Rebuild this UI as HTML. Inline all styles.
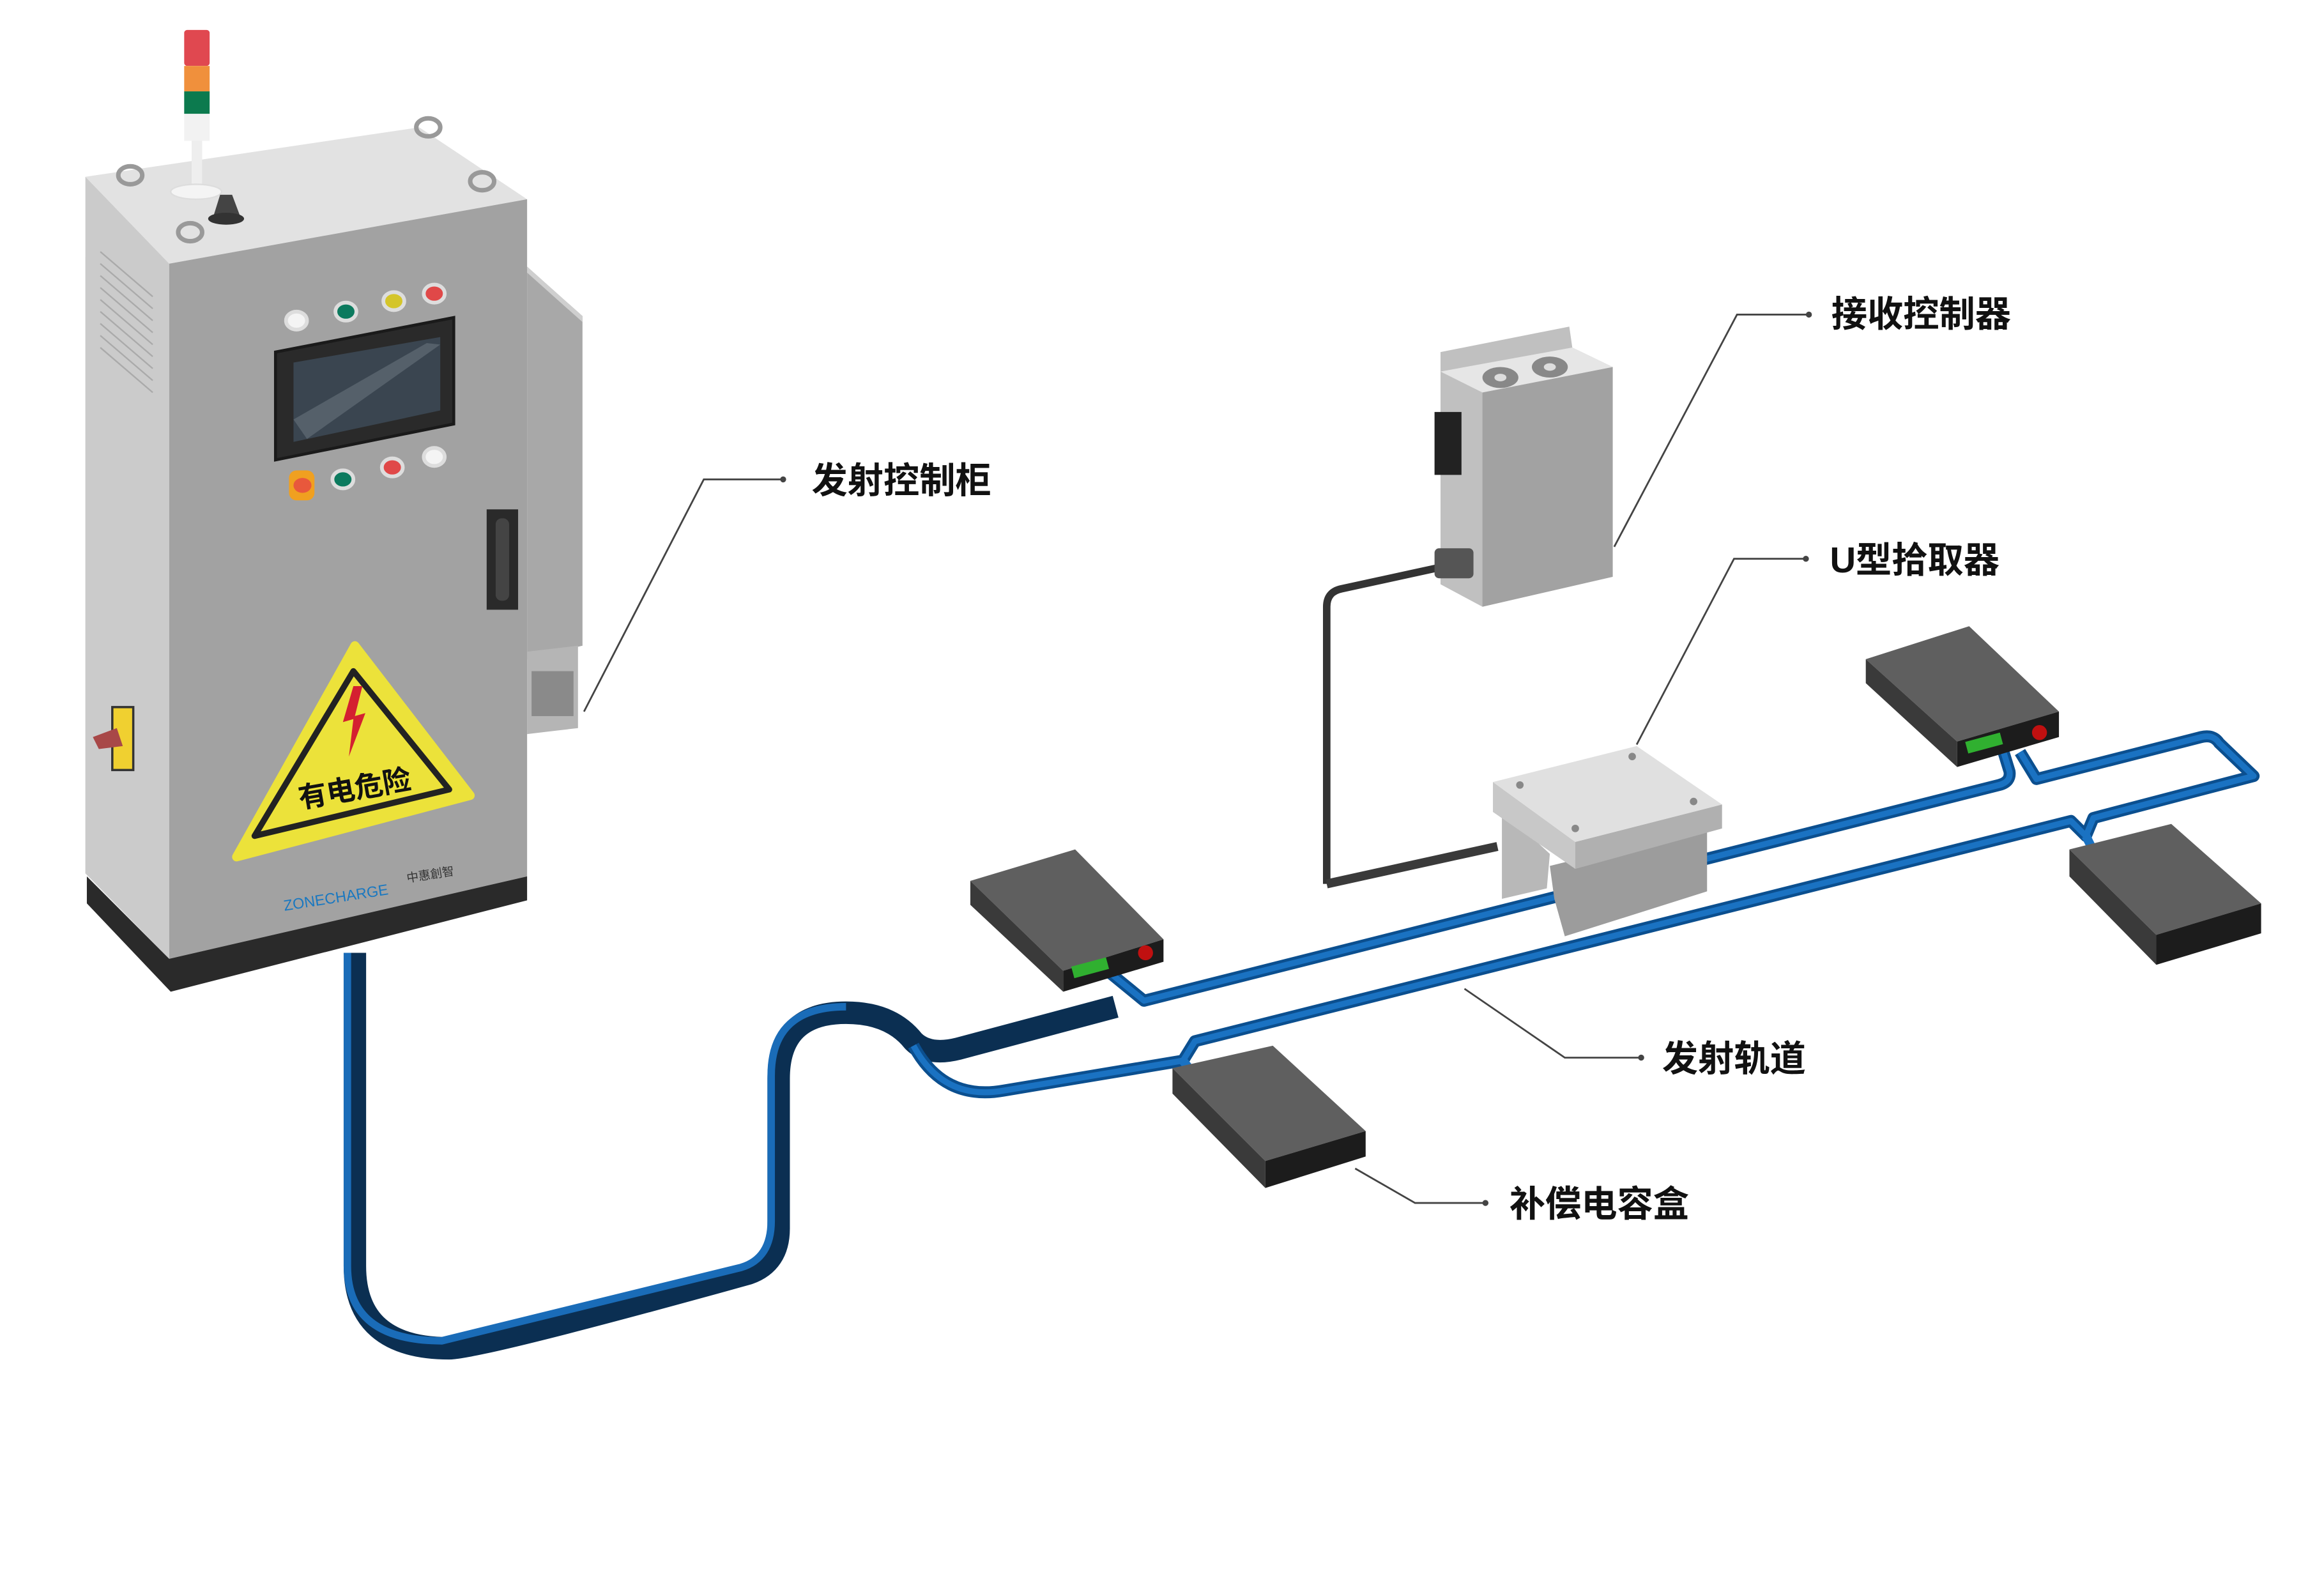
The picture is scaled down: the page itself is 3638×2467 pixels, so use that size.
<!DOCTYPE html>
<html><head><meta charset="utf-8"><style>
html,body{margin:0;padding:0;background:#fff;}
svg{display:block;}
text{font-family:"Liberation Sans","Noto Sans CJK SC",sans-serif;}
</style></head><body>
<svg width="3638" height="2467" viewBox="0 0 1552 1052" preserveAspectRatio="none" xmlns="http://www.w3.org/2000/svg">
<rect width="1552" height="1052" fill="#fff"/>

<!-- main cable -->
<path d="M237,636 L237,845 Q237,900 300,900 Q320,900 500,850 Q520,843 520,820 L520,720 Q520,676 565,676 Q595,676 610,695 Q620,705 640,700 L745,672" fill="none" stroke="#0b2f52" stroke-width="15" stroke-linejoin="round"/>
<path d="M232,636 L232,845 Q232,895 295,895 L495,846 Q515,840 515,815 L515,718 Q515,672 565,672" fill="none" stroke="#1a6cb8" stroke-width="5"/>
<g fill="none" stroke-linejoin="round">
<path d="M610,698 Q630,735 670,728 L790,708 L798,695 L1383,548 L1393,558 L1398,546 L1505,518 L1482,496 Q1478,490 1470,492 L1360,520 L1349,502 M1338,502 L1342,515 Q1343,522 1335,524 L764,668 L742,650" stroke="#0b4f8f" stroke-width="8"/>
<path d="M610,698 Q630,735 670,728 L790,708 L798,695 L1383,548 L1393,558 L1398,546 L1505,518 L1482,496 Q1478,490 1470,492 L1360,520 L1349,502 M1338,502 L1342,515 Q1343,522 1335,524 L764,668 L742,650" stroke="#1a72c2" stroke-width="4"/>
</g>
<path d="M1393,558 L1398,568" stroke="#1a72c2" stroke-width="6"/>
<path d="M790,708 L798,718" stroke="#1a72c2" stroke-width="6"/>

<!-- leader lines -->
<g stroke="#444" stroke-width="1.2" fill="none">
<path d="M390,475 L470,320 L523,320"/>
<path d="M1078,365 L1160,210 L1208,210"/>
<path d="M1093,497 L1158,373 L1206,373"/>
<path d="M978,660 L1045,706 L1096,706"/>
<path d="M905,780 L945,803 L992,803"/>
</g>
<g fill="#444"><circle cx="523" cy="320" r="2"/><circle cx="1208" cy="210" r="2"/><circle cx="1206" cy="373" r="2"/><circle cx="1096" cy="706" r="2"/><circle cx="992" cy="803" r="2"/></g>
<g font-size="24" font-weight="bold" fill="#111">
<text x="542" y="329">发射控制柜</text>
<text x="1223" y="218">接收控制器</text>
<text x="1222" y="382">U型拾取器</text>
<text x="1110" y="715">发射轨道</text>
<text x="1008" y="812">补偿电容盒</text>
</g>

<!-- cabinet -->
<polygon points="57,118 280,85 352,133 113,176" fill="#e2e2e2"/>
<polygon points="57,118 113,176 113,640 57,583" fill="#cbcbcb"/>
<polygon points="113,176 352,133 352,585 113,640" fill="#a2a2a2"/>
<polygon points="58,585 113,640 352,585 352,601 114,662 58,603" fill="#2a2a2a"/>
<polygon points="352,178 389,211 389,431 352,440" fill="#a8a8a8"/>
<polygon points="352,178 389,211 389,215 352,182" fill="#cfcfcf"/>
<polygon points="352,435 386,431 386,486 352,490" fill="#b5b5b5"/>
<rect x="355" y="448" width="28" height="30" fill="#8a8a8a"/>
<g stroke="#aaa" stroke-width="1"><line x1="67" y1="168" x2="102" y2="198"/><line x1="67" y1="176" x2="102" y2="206"/><line x1="67" y1="184" x2="102" y2="214"/><line x1="67" y1="192" x2="102" y2="222"/><line x1="67" y1="200" x2="102" y2="230"/><line x1="67" y1="208" x2="102" y2="238"/><line x1="67" y1="216" x2="102" y2="246"/><line x1="67" y1="224" x2="102" y2="254"/><line x1="67" y1="232" x2="102" y2="262"/></g>
<!-- screen -->
<polygon points="184,235 303,212 303,283 184,307" fill="#2a2a2a" stroke="#1a1a1a" stroke-width="2"/>
<polygon points="196,242 294,225 294,274 196,295" fill="#3a4550"/>
<polygon points="196,280 285,229 294,230 205,293" fill="#55606a"/>
<!-- buttons -->
<g stroke="#ddd" stroke-width="2.5">
<ellipse cx="198" cy="214" rx="7" ry="6" fill="#f4f4f4"/>
<ellipse cx="231" cy="208" rx="7" ry="6" fill="#0c7a5e"/>
<ellipse cx="263" cy="201" rx="7" ry="6" fill="#d4c52a"/>
<ellipse cx="290" cy="196" rx="7" ry="6" fill="#e04848"/>
<ellipse cx="229" cy="320" rx="7" ry="6" fill="#0c7a5e"/>
<ellipse cx="262" cy="312" rx="7" ry="6" fill="#e04848"/>
<ellipse cx="290" cy="305" rx="7" ry="6" fill="#f4f4f4"/>
</g>
<rect x="193" y="314" width="17" height="20" rx="5" fill="#f0a020"/>
<ellipse cx="202" cy="324" rx="6" ry="5" fill="#e8583c"/>
<!-- handle -->
<rect x="325" y="340" width="21" height="67" fill="#2a2a2a"/>
<rect x="331" y="346" width="9" height="55" rx="4" fill="#444"/>
<!-- switch -->
<rect x="75" y="472" width="14" height="42" fill="#f0d030" stroke="#333" stroke-width="1.5"/>
<path d="M62,492 L78,486 L82,498 L66,500 Z" fill="#a84848"/>
<!-- warning -->
<polygon points="237,431 314,531 158,572" fill="#ece23a" stroke="#ece23a" stroke-width="6" stroke-linejoin="round"/>
<polygon points="236,448 300,527 170,558" fill="none" stroke="#222" stroke-width="4" stroke-linejoin="round"/>
<path d="M236,458 L229,482 L236,480 L233,505 L244,476 L237,478 L242,458 Z" fill="#d42030"/>
<text x="237" y="533" font-size="19" font-weight="bold" text-anchor="middle" fill="#111" transform="rotate(-10 237 527)">有电危险</text>
<text x="190" y="608" font-size="10" fill="#1a78c0" transform="rotate(-9 190 608)">ZONECHARGE</text>
<text x="272" y="589" font-size="8" fill="#333" transform="rotate(-9 272 589)">中惠創智</text>
<!-- top items -->
<g fill="none" stroke="#999" stroke-width="3"><ellipse cx="87" cy="117" rx="8" ry="6"/><ellipse cx="286" cy="85" rx="8" ry="6"/><ellipse cx="322" cy="121" rx="8" ry="6"/><ellipse cx="127" cy="155" rx="8" ry="6"/></g>
<rect x="123" y="20" width="17" height="24" rx="2" fill="#e04850"/>
<rect x="123" y="44" width="17" height="17" fill="#f0903c"/>
<rect x="123" y="61" width="17" height="15" fill="#0c7a4e"/>
<rect x="123" y="76" width="17" height="18" fill="#f2f2f2"/>
<rect x="128" y="94" width="7" height="30" fill="#eee"/>
<ellipse cx="131" cy="128" rx="17" ry="5" fill="#f4f4f4" stroke="#ddd"/>
<path d="M142,146 L147,130 L155,130 L161,146 Z" fill="#444"/>
<ellipse cx="151" cy="146" rx="12" ry="4" fill="#333"/>

<!-- receiver controller -->
<path d="M886,590 L886,405 Q886,395 896,393 L965,378" fill="none" stroke="#333" stroke-width="5"/>
<path d="M886,590 L1000,565" stroke="#3a3a3a" stroke-width="6"/>
<polygon points="962,235 1048,218 1050,232 1077,245 1077,385 990,405 962,390" fill="#c0c0c0"/>
<polygon points="990,262 1077,245 1077,385 990,405" fill="#a2a2a2"/>
<polygon points="962,248 1050,232 1077,245 990,262" fill="#e6e6e6"/>
<ellipse cx="1002" cy="252" rx="12" ry="7" fill="#888"/><ellipse cx="1035" cy="245" rx="12" ry="7" fill="#888"/>
<ellipse cx="1002" cy="252" rx="4" ry="2.5" fill="#ddd"/><ellipse cx="1035" cy="245" rx="4" ry="2.5" fill="#ddd"/>
<rect x="958" y="275" width="18" height="42" fill="#222"/>
<rect x="958" y="366" width="26" height="20" rx="3" fill="#555"/>
<!-- pickup -->
<polygon points="1003,540 1003,600 1033,593 1035,570" fill="#b8b8b8"/>
<polygon points="1035,578 1140,552 1140,595 1045,625 1038,600" fill="#9c9c9c"/>
<polygon points="997,522 1052,562 1052,580 997,542" fill="#c8c8c8"/>
<polygon points="1052,562 1150,537 1150,553 1052,580" fill="#b0b0b0"/>
<polygon points="997,522 1093,498 1150,537 1052,562" fill="#e0e0e0"/>
<g fill="#888"><circle cx="1090" cy="505" r="2.5"/><circle cx="1015" cy="524" r="2.5"/><circle cx="1131" cy="535" r="2.5"/><circle cx="1052" cy="553" r="2.5"/></g>

<!-- capacitor boxes -->
<g>
<polygon points="648,588 718,567 777,627 710,648" fill="#5f5f5f"/>
<polygon points="648,588 710,648 710,662 648,604" fill="#3a3a3a"/>
<polygon points="710,648 777,627 777,642 710,662" fill="#1c1c1c"/>
<circle cx="765" cy="636" r="5" fill="#c01010"/>
<rect x="716" y="642" width="24" height="8" fill="#30b030" transform="rotate(-15 728 646)"/>
</g>
<g>
<polygon points="783,713 850,698 912,755 845,775" fill="#5f5f5f"/>
<polygon points="783,713 845,775 845,793 783,730" fill="#3a3a3a"/>
<polygon points="845,775 912,755 912,772 845,793" fill="#1c1c1c"/>
</g>
<g>
<polygon points="1246,440 1315,418 1375,475 1307,495" fill="#5f5f5f"/>
<polygon points="1246,440 1307,495 1307,512 1246,456" fill="#3a3a3a"/>
<polygon points="1307,495 1375,475 1375,492 1307,512" fill="#1c1c1c"/>
<circle cx="1362" cy="489" r="5" fill="#c01010"/>
<rect x="1313" y="492" width="24" height="8" fill="#30b030" transform="rotate(-15 1325 496)"/>
</g>
<g>
<polygon points="1382,567 1450,550 1510,603 1440,624" fill="#5f5f5f"/>
<polygon points="1382,567 1440,624 1440,644 1382,585" fill="#3a3a3a"/>
<polygon points="1440,624 1510,603 1510,623 1440,644" fill="#1c1c1c"/>
</g>
</svg>
</body></html>
